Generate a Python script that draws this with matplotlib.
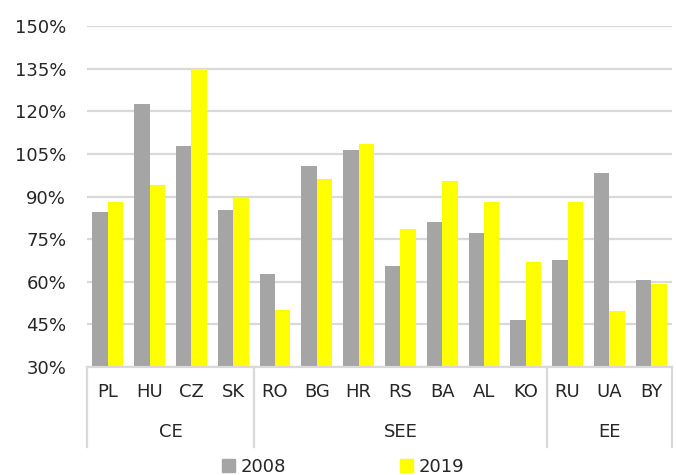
import matplotlib
matplotlib.use("Agg")
import matplotlib.pyplot as plt
import matplotlib.transforms as mtransforms
from matplotlib.patches import Patch
from matplotlib.ticker import FuncFormatter

countries = ["PL", "HU", "CZ", "SK", "RO", "BG", "HR", "RS", "BA", "AL", "KO", "RU", "UA", "BY"]
groups = ["CE", "SEE", "EE"]
group_sizes = [4, 7, 3]
vals_2008 = [84.5, 122.4, 107.9, 85.2, 62.6, 100.6, 106.4, 65.5, 80.9, 77.1, 46.5, 67.6, 98.4, 60.5]
vals_2019 = [88.2, 93.9, 134.9, 89.6, 50.2, 96.2, 108.6, 78.7, 95.3, 88.2, 66.9, 88.2, 49.6, 59.1]
series_labels = ["2008", "2019"]
yticks = [30, 45, 60, 75, 90, 105, 120, 135, 150]

GRAY = "#a5a5a5"
YELLOW = "#ffff00"
GRID = "#d9d9d9"
TXT = "#262626"

plt.rcParams["font.family"] = ["DejaVu Sans"]
W, H = 676, 475
fig = plt.figure(figsize=(W / 100, H / 100), dpi=100)
ax = fig.add_axes([87 / W, (H - 367) / H, 585 / W, 341 / H])

x = list(range(len(countries)))
bw = 0.37
ax.bar([i - bw / 2 for i in x], [v - 30 for v in vals_2008], bw, bottom=30, color=GRAY, zorder=3)
ax.bar([i + bw / 2 for i in x], [v - 30 for v in vals_2019], bw, bottom=30, color=YELLOW, zorder=3)

ax.set_xlim(-0.5, len(countries) - 0.5)
ax.set_ylim(30, 150)
ax.set_yticks(yticks)
ax.yaxis.set_major_formatter(FuncFormatter(lambda v, p: f"{v:.0f}%"))
ax.tick_params(axis="y", length=0, pad=15, labelsize=13, labelcolor=TXT)
ax.set_xticks([])
ax.grid(axis="y", color=GRID, linewidth=1.6, zorder=0)
for s in ["top", "right", "left"]:
    ax.spines[s].set_visible(False)
ax.spines["bottom"].set_color(GRID)
ax.spines["bottom"].set_linewidth(1.6)
ax.spines["bottom"].set_zorder(4)

trans = mtransforms.blended_transform_factory(ax.transData, ax.transAxes)
px = 1 / 341
for i, c in enumerate(countries):
    ax.text(i, -25 * px, c, transform=trans, ha="center", va="center", fontsize=13, color=TXT)

start = -0.5
bounds = [start]
for g, n in zip(groups, group_sizes):
    ax.text(start + n / 2, -65 * px, g, transform=trans, ha="center", va="center", fontsize=13, color=TXT)
    start += n
    bounds.append(start)
for b in bounds:
    ax.plot([b, b], [0, -80 * px], transform=trans, color=GRID, linewidth=1.6, clip_on=False)

handles = [Patch(color=GRAY), Patch(color=YELLOW)]
fig.legend(handles, series_labels, loc="center", bbox_to_anchor=(343 / W, (H - 467) / H),
           ncol=2, frameon=False, fontsize=13, handlelength=0.75, handleheight=0.75,
           handletextpad=0.3, columnspacing=6.3, labelcolor=TXT, borderaxespad=0)

fig.savefig("out.png", dpi=100)
